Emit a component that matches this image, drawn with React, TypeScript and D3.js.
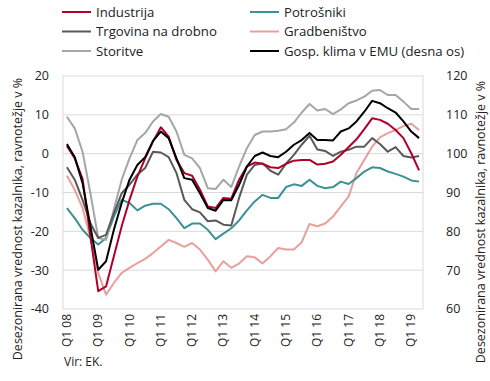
import React from "react";
import * as d3 from "d3";

const quarters: string[] = [];
for (let y = 8; y <= 19; y++) for (let q = 1; q <= 4; q++) quarters.push(`Q${q} ${String(y).padStart(2, "0")}`);
const categories = quarters.slice(0, 46);
const tickLabels = ["Q1 08","Q1 09","Q1 10","Q1 11","Q1 12","Q1 13","Q1 14","Q1 15","Q1 16","Q1 17","Q1 18","Q1 19"];
const leftTicks = [20, 10, 0, -10, -20, -30, -40];
const rightTicks = [120, 110, 100, 90, 80, 70, 60];

const industrija = [2.0,-1.2,-6.5,-21.3,-35.4,-34.2,-26.4,-18.7,-11.9,-5.9,-1.2,3.1,6.8,4.4,-1.6,-5.0,-5.7,-9.3,-13.6,-14.0,-11.4,-11.6,-6.7,-3.3,-2.3,-2.6,-3.5,-3.7,-2.6,-1.8,-1.6,-1.6,-2.8,-2.6,-2.0,-0.3,1.7,3.7,6.3,9.1,8.7,7.7,6.1,4.0,0.1,-4.3];
const potrosniki = [-14.0,-16.6,-19.6,-21.7,-23.4,-21.7,-16.2,-11.9,-12.7,-14.6,-13.4,-12.9,-12.9,-14.3,-16.6,-19.2,-18.0,-18.0,-19.6,-22.0,-20.6,-19.2,-17.2,-14.6,-12.3,-10.6,-11.4,-11.4,-8.6,-7.9,-8.3,-6.7,-8.3,-8.9,-8.6,-7.2,-7.8,-6.3,-4.6,-3.5,-3.7,-4.6,-5.2,-5.9,-6.9,-7.2];
const trgovina = [-3.5,-6.7,-11.9,-17.9,-21.7,-20.9,-15.3,-10.2,-8.0,-5.4,-3.7,0.5,0.3,-0.9,-5.0,-11.9,-14.3,-15.1,-17.4,-17.2,-18.3,-18.5,-11.4,-5.4,-2.9,-2.5,-4.4,-5.4,-2.6,-0.3,2.3,4.6,1.1,0.7,-0.6,0.5,1.0,1.8,1.8,4.0,2.5,0.5,1.7,-0.6,-1.0,-0.6];
const gradbenistvo = [-5.7,-9.3,-14.0,-21.7,-30.7,-36.3,-33.3,-30.7,-29.4,-28.2,-27.1,-25.6,-23.9,-22.2,-23.0,-24.0,-23.0,-24.7,-27.3,-30.3,-27.7,-29.4,-28.3,-26.4,-26.7,-28.3,-26.4,-24.3,-24.7,-24.7,-22.8,-18.1,-18.7,-18.0,-16.2,-13.6,-11.0,-5.0,-1.6,1.8,4.2,5.3,6.1,7.1,7.7,6.1];
const storitve = [9.5,6.5,0.5,-10.2,-21.7,-22.2,-14.4,-6.7,-1.2,3.5,5.3,8.3,10.2,9.5,5.7,-0.3,-1.2,-3.7,-8.9,-9.1,-6.7,-8.6,-3.3,1.4,4.8,5.7,5.7,5.9,6.3,8.0,10.6,12.8,11.1,11.5,10.2,11.4,13.0,13.7,14.7,16.2,16.4,15.1,15.1,13.4,11.5,11.5];
const emu = [102.5,99.1,92.4,81.3,70.1,72.3,80.4,87.3,93.3,97.1,99.1,103.3,105.7,104.0,98.8,93.7,93.3,89.8,86.0,85.3,88.1,88.0,92.0,96.7,99.4,100.3,99.4,99.1,100.5,102.3,103.5,105.3,103.5,103.5,103.4,105.7,106.5,108.3,110.8,113.6,113.0,111.7,110.6,108.3,105.7,104.0];

const seriesNames = ["Industrija","Potrošniki","Trgovina na drobno","Gradbeništvo","Storitve","Gosp. klima v EMU (desna os)"];
const colors = ["#b0002a","#3a9196","#595959","#e6a19c","#a6a6a6","#000000"];

export default function App() {
  const W = 490, H = 381;
  const left = 63, right = 423, top = 76, bottom = 309;
  const x = d3.scaleBand<string>().domain(categories).range([left, right]).padding(0);
  const xc = (c: string) => (x(c) as number) + x.bandwidth() / 2;
  const yL = d3.scaleLinear().domain([-40, 20]).range([bottom, top]);
  const yR = d3.scaleLinear().domain([60, 120]).range([bottom, top]);
  const font = "'Open Sans', 'Noto Sans', sans-serif";
  const lineL = d3.line<number>().x((_, i) => xc(categories[i])).y(d => yL(d));
  const lineR = d3.line<number>().x((_, i) => xc(categories[i])).y(d => yR(d));
  const leftSeries = [industrija, potrosniki, trgovina, gradbenistvo, storitve];
  const drawOrder = [3, 1, 4, 2, 0];
  const legendPos = [
    [62, 12], [250, 12], [62, 31.5], [250, 31.5], [62, 51], [250, 51],
  ];
  return (
    <svg width={W} height={H} style={{ position: "absolute", left: 0, top: 0 }} fontFamily={font}>
      <rect x={0} y={0} width={W} height={H} fill="#fff" />
      {leftTicks.slice(1, -1).map(t => (
        <line key={t} x1={left} x2={right} y1={yL(t)} y2={yL(t)} stroke="#d9d9d9" strokeWidth={1} />
      ))}
      <rect x={left} y={top} width={right - left} height={bottom - top} fill="none" stroke="#d9d9d9" strokeWidth={1} />
      {leftTicks.map(t => (
        <text key={t} x={49} y={yL(t)} dy="0.35em" textAnchor="end" fontSize={12.5} fill="#222">{t}</text>
      ))}
      {rightTicks.map(t => (
        <text key={t} x={446} y={yR(t)} dy="0.35em" textAnchor="start" fontSize={12.5} fill="#222">{t}</text>
      ))}
      {tickLabels.map(t => (
        <text key={t} transform={`translate(${xc(t) + 4},${314}) rotate(-90)`} textAnchor="end" fontSize={12} fill="#222">{t}</text>
      ))}
      <text transform={`translate(22,219) rotate(-90)`} textAnchor="middle" fontSize={12.5} fill="#222">Desezonirana vrednost kazalnika, ravnotežje v %</text>
      <text transform={`translate(485,222) rotate(-90)`} textAnchor="middle" fontSize={12.5} fill="#222">Desezonirana vrednost kazalnika, ravnotežje v %</text>
      <text x={64} y={366} fontSize={12} fill="#222">Vir: EK.</text>
      {drawOrder.map(k => (
        <path key={k} d={lineL(leftSeries[k]) || ""} fill="none" stroke={colors[k]} strokeWidth={2} strokeLinejoin="round" />
      ))}
      <path d={lineR(emu) || ""} fill="none" stroke={colors[5]} strokeWidth={2} strokeLinejoin="round" />
      {seriesNames.map((n, i) => (
        <g key={n}>
          <line x1={legendPos[i][0]} x2={legendPos[i][0] + 29} y1={legendPos[i][1]} y2={legendPos[i][1]} stroke={colors[i]} strokeWidth={2} />
          <text x={legendPos[i][0] + 34} y={legendPos[i][1]} dy="0.35em" fontSize={13.2} fill="#222">{n}</text>
        </g>
      ))}
    </svg>
  );
}
